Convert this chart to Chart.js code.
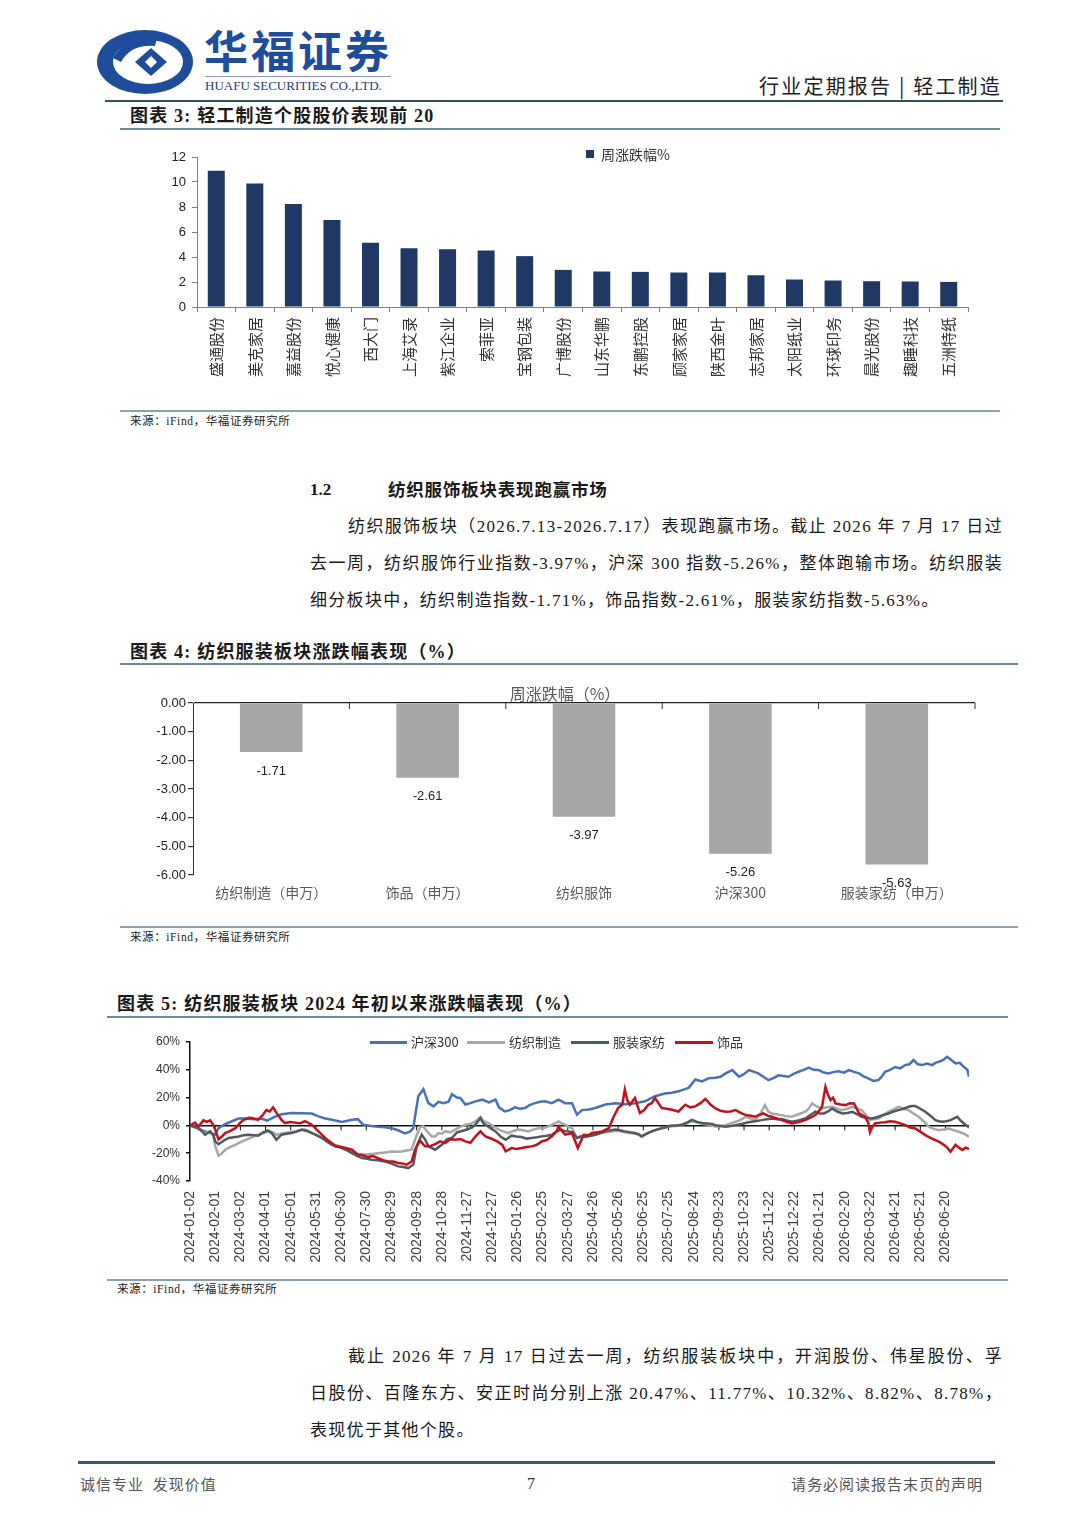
<!DOCTYPE html>
<html><head><meta charset="utf-8">
<script src="https://cdn.jsdelivr.net/npm/chart.js@4.4.1/dist/chart.umd.min.js"></script>
<style>
html,body{margin:0;padding:0;background:#fff;}
body{width:1080px;height:1527px;position:relative;overflow:hidden;font-family:"Liberation Serif","Noto Sans CJK SC",serif;color:#1a1a1a;}
.a{position:absolute;white-space:nowrap;}
.hl{position:absolute;}
canvas{position:absolute;}
.t{font-weight:bold;font-size:18px;letter-spacing:1.2px;line-height:20px;}
.src{font-size:11.5px;line-height:14px;color:#222;letter-spacing:0.6px;}
.p{font-size:17px;line-height:20px;letter-spacing:1.3px;}
.j{text-align:justify;text-align-last:justify;}
.lg{font-family:"Noto Sans CJK SC",sans-serif;font-size:13px;line-height:16px;color:#333;}
.sw{position:absolute;height:3px;}
</style></head><body>

<!-- header -->
<svg class="a" style="left:95px;top:28px" width="102" height="68" viewBox="0 0 102 68">
  <ellipse cx="50" cy="34" rx="48" ry="32" fill="#1f4d9b"/>
  <ellipse cx="53" cy="34" rx="35" ry="22" fill="#fff"/>
  <path d="M18 30 Q30 8 62 10 L60 18 Q36 16 26 34 Z" fill="#1f4d9b"/>
  <path d="M40 34 L56 20 L72 34 L56 48 Z" fill="#1f4d9b"/>
  <path d="M50 34 L56 28 L62 34 L56 40 Z" fill="#fff"/>
</svg>
<div class="a" style="left:204px;top:25px;font-family:'Noto Sans CJK SC',sans-serif;font-weight:bold;font-size:44px;line-height:48px;letter-spacing:3px;color:#1f4d9b;">华福证券</div>
<div class="hl" style="left:205px;top:76px;width:186px;height:1px;background:#8a9cc0;"></div>
<div class="a" style="left:205px;top:78px;font-size:13px;line-height:15px;color:#1f3c7a;">HUAFU SECURITIES CO.,LTD.</div>
<div class="a" style="right:78px;top:75px;font-family:'Noto Sans CJK SC',sans-serif;font-size:20px;line-height:22px;letter-spacing:2.2px;color:#222;">行业定期报告 | 轻工制造</div>
<div class="hl" style="left:105px;top:100px;width:898px;height:2px;background:#34505c;"></div>

<!-- chart 3 block -->
<div class="a t" style="left:130px;top:106px;">图表 3: 轻工制造个股股价表现前 20</div>
<div class="hl" style="left:120px;top:128px;width:880px;height:1.5px;background:#6d8a96;"></div>
<canvas id="c1" width="860" height="265" style="left:130px;top:140px;"></canvas>
<div class="hl" style="left:586px;top:150px;width:8px;height:8px;background:#1f3864;"></div>
<div class="a" style="left:601px;top:145px;font-family:'Noto Sans CJK SC',sans-serif;font-size:14px;line-height:18px;color:#333;">周涨跌幅%</div>
<div class="hl" style="left:120px;top:410px;width:880px;height:1.5px;background:#8aa0aa;"></div>
<div class="a src" style="left:130px;top:414px;">来源：iFind，华福证券研究所</div>

<!-- section 1.2 -->
<div class="a" style="left:310px;top:480px;font-weight:bold;font-size:17px;line-height:20px;">1.2</div>
<div class="a" style="left:388px;top:480px;font-weight:bold;font-size:17.5px;line-height:20px;letter-spacing:0.8px;">纺织服饰板块表现跑赢市场</div>
<div class="a p j" style="left:348px;top:517px;width:655px;">纺织服饰板块（2026.7.13-2026.7.17）表现跑赢市场。截止 2026 年 7 月 17 日过</div>
<div class="a p j" style="left:310px;top:554px;width:693px;">去一周，纺织服饰行业指数-3.97%，沪深 300 指数-5.26%，整体跑输市场。纺织服装</div>
<div class="a p" style="left:310px;top:591px;">细分板块中，纺织制造指数-1.71%，饰品指数-2.61%，服装家纺指数-5.63%。</div>

<!-- chart 4 block -->
<div class="a t" style="left:130px;top:642px;">图表 4: 纺织服装板块涨跌幅表现（%）</div>
<div class="hl" style="left:120px;top:663px;width:898px;height:1.5px;background:#6d8a96;"></div>
<canvas id="c2" width="880" height="235" style="left:120px;top:680px;"></canvas>
<div class="a" style="left:565px;top:683px;transform:translateX(-50%);font-family:'Noto Sans CJK SC',sans-serif;font-size:16px;line-height:20px;color:#595959;">周涨跌幅（%）</div>
<div class="hl" style="left:120px;top:926px;width:898px;height:1.5px;background:#8aa0aa;"></div>
<div class="a src" style="left:130px;top:930px;">来源：iFind，华福证券研究所</div>

<!-- chart 5 block -->
<div class="a t" style="left:117px;top:994px;">图表 5: 纺织服装板块 2024 年初以来涨跌幅表现（%）</div>
<div class="hl" style="left:107px;top:1016px;width:901px;height:1.5px;background:#6d8a96;"></div>
<canvas id="c3" width="900" height="250" style="left:107px;top:1025px;"></canvas>
<div class="sw" style="left:370px;top:1041px;width:37px;background:#4a70b8;"></div>
<div class="a lg" style="left:411px;top:1034px;">沪深300</div>
<div class="sw" style="left:467px;top:1041px;width:38px;background:#a8a8a8;"></div>
<div class="a lg" style="left:509px;top:1034px;">纺织制造</div>
<div class="sw" style="left:571px;top:1041px;width:38px;background:#4f5a61;"></div>
<div class="a lg" style="left:613px;top:1034px;">服装家纺</div>
<div class="sw" style="left:675px;top:1041px;width:38px;background:#c1121c;"></div>
<div class="a lg" style="left:717px;top:1034px;">饰品</div>
<div class="hl" style="left:107px;top:1279px;width:901px;height:1.5px;background:#8aa0aa;"></div>
<div class="a src" style="left:117px;top:1282px;">来源：iFind，华福证券研究所</div>

<!-- paragraph 2 -->
<div class="a p j" style="left:348px;top:1347px;width:655px;">截止 2026 年 7 月 17 日过去一周，纺织服装板块中，开润股份、伟星股份、孚</div>
<div class="a p j" style="left:310px;top:1384px;width:693px;">日股份、百隆东方、安正时尚分别上涨 20.47%、11.77%、10.32%、8.82%、8.78%，</div>
<div class="a p" style="left:310px;top:1421px;">表现优于其他个股。</div>

<!-- footer -->
<div class="hl" style="left:78px;top:1461px;width:917px;height:2.5px;background:#3c5a64;"></div>
<div class="a" style="left:80px;top:1475px;font-family:'Noto Sans CJK SC',sans-serif;font-size:15px;line-height:18px;color:#555;letter-spacing:1px;">诚信专业&nbsp;&nbsp;发现价值</div>
<div class="a" style="left:527px;top:1475px;font-size:16px;line-height:18px;color:#333;">7</div>
<div class="a" style="right:97px;top:1475px;font-family:'Noto Sans CJK SC',sans-serif;font-size:15px;line-height:18px;color:#555;letter-spacing:1px;">请务必阅读报告末页的声明</div>

<script>
// ---------- data: chart 3 (top 20 light-industry stocks) ----------
const stockNames = ['盛通股份','美克家居','嘉益股份','悦心健康','西大门','上海艾录','紫江企业','索菲亚','宝钢包装','广博股份','山东华鹏','东鹏控股','顾家家居','陕西金叶','志邦家居','太阳纸业','环球印务','晨光股份','趣睡科技','五洲特纸'];
const stockWeeklyChange = [10.9,9.88,8.25,6.96,5.14,4.71,4.63,4.53,4.07,2.97,2.84,2.81,2.76,2.76,2.54,2.2,2.12,2.06,2.04,2.01];

// ---------- data: chart 4 (textile sector weekly change) ----------
const sectorNames = ['纺织制造（申万）','饰品（申万）','纺织服饰','沪深300','服装家纺（申万）'];
const sectorWeeklyChange = [-1.71,-2.61,-3.97,-5.26,-5.63];

// ---------- data: chart 5 (cumulative change since 2024-01-02; [day offset, %]) ----------
const xTickLabels = ['2024-01-02','2024-02-01','2024-03-02','2024-04-01','2024-05-01','2024-05-31','2024-06-30','2024-07-30','2024-08-29','2024-09-28','2024-10-28','2024-11-27','2024-12-27','2025-01-26','2025-02-25','2025-03-27','2025-04-26','2025-05-26','2025-06-25','2025-07-25','2025-08-24','2025-09-23','2025-10-23','2025-11-22','2025-12-22','2026-01-21','2026-02-20','2026-03-22','2026-04-21','2026-05-21','2026-06-20'];
const lastDay = 928;

const hs300 = [[0,0],[8,-2],[16,-4],[24,-5.5],[30,-6.5],[34,-2],[42,1],[50,3],[58,5],[66,5],[75,4.5],[85,5],[92,3.5],[100,6],[109,8],[121,9],[133,8.8],[145,8.5],[153,6.5],[161,5],[169,4],[181,2.5],[193,4],[200,4.5],[206,0.5],[216,-0.5],[224,-1],[232,-1.3],[240,-2],[248,-3.5],[256,-5.8],[262,-4.5],[266,-2],[268,6],[272,21],[278,26],[284,16],[290,13.7],[296,17],[302,16],[308,17],[312,22.5],[318,20],[322,19.7],[328,15],[334,16],[340,17.3],[348,18.5],[356,16.5],[364,18.5],[368,13],[375,10],[381,11],[387,13],[393,12],[399,12.5],[405,14.8],[411,16],[417,17],[423,17.3],[431,16],[439,18.5],[447,16],[455,16],[461,7.7],[467,11],[475,11.5],[483,12.5],[495,15],[507,16],[518,15.3],[530,16],[542,17.3],[554,21],[566,23],[574,23.5],[582,24.5],[594,27],[602,33],[610,31.6],[618,34],[626,34.3],[632,35],[638,37.4],[646,39.8],[654,35],[660,37],[666,39.8],[677,37.4],[683,35],[689,32.6],[695,34],[701,36],[707,35.5],[713,35],[719,37],[725,38.6],[731,40],[737,41.5],[743,40],[749,39.8],[755,38],[761,37.4],[767,38.5],[773,39],[779,38],[785,39.8],[791,38.5],[797,37.4],[803,35],[808,33.8],[814,32],[820,32.6],[824,35],[828,38.6],[834,40],[840,42],[846,41],[852,43.4],[857,44],[862,47],[867,44],[872,43.4],[878,44.5],[884,43.4],[888,45],[892,45.8],[897,47],[902,49.4],[907,47],[912,44.6],[917,45],[922,42],[926,40],[928,35]];

const textileMfg = [[0,0],[6,-1],[10,-2.6],[14,-4],[18,-5.5],[24,-4.3],[28,-8],[30,-15],[34,-21.8],[38,-20],[42,-17.5],[48,-15.5],[54,-14],[62,-11.5],[68,-10],[74,-8.4],[80,-7],[85,-6],[90,-5],[95,-4.3],[99,-5],[103,-6.7],[108,-6],[113,-5.5],[119,-5],[125,-4.3],[131,-3.5],[137,-3],[143,-4.5],[149,-6.7],[155,-8.5],[161,-10.3],[167,-12],[173,-14],[179,-15],[185,-16.3],[191,-18],[197,-20],[203,-21],[209,-21],[216,-20.5],[224,-20],[232,-19.5],[240,-18.7],[246,-19],[252,-18.7],[258,-18],[264,-17.5],[268,-10.3],[274,-1.2],[278,-0.7],[282,-4],[288,-8],[292,-8],[296,-5.5],[300,-6],[304,-4.3],[310,-5],[316,-3],[322,-1],[328,0.5],[334,1],[340,2.9],[346,6],[350,3],[356,1.7],[362,-1],[368,-3],[374,-4.5],[379,-5.5],[385,-4],[391,-3],[397,-3.5],[403,-4.3],[409,-3],[415,-2],[421,-2],[427,-0.7],[433,1],[439,2.9],[443,1.5],[447,0.5],[451,-1],[455,-2],[461,-9],[466,-7.5],[471,-8],[477,-7],[483,-6.7],[489,-5.5],[495,-5],[501,-4.5],[507,-3.8],[512,-4],[518,-5],[524,-5.5],[530,-6],[535,-7],[538,-8.4],[544,-6],[550,-4.3],[556,-3],[562,-2],[568,-1.5],[574,-0.7],[580,-0.5],[586,0.5],[592,1.5],[598,2.9],[604,2],[610,1.2],[616,0.7],[622,0],[626,-1],[632,-0.5],[638,0.2],[644,1.5],[650,2.6],[656,4],[662,6.2],[668,5],[673,3.8],[679,8],[685,14.6],[689,10],[693,8.6],[699,8],[705,7.4],[711,6.5],[717,6.2],[725,8],[733,9.8],[737,12],[741,15.8],[747,13.5],[753,12.2],[759,13],[765,13.4],[771,12],[777,11],[783,12],[789,13.4],[795,12],[800,11],[806,7],[810,3.8],[815,4.5],[820,5],[826,7.5],[832,9.8],[838,11.5],[844,13.4],[850,12],[856,11],[862,8.5],[868,6.2],[874,3],[880,-1],[886,-2.5],[892,-3.4],[898,-3],[904,-2.2],[910,-3.5],[916,-4.6],[922,-6],[928,-8.2]];

const apparelHome = [[0,0],[6,-1],[10,-2],[14,-4],[18,-6.7],[22,-5],[24,-4.3],[28,-7],[30,-11.5],[34,-13.5],[40,-11],[46,-9],[52,-8.5],[58,-8],[64,-7],[70,-6.7],[76,-7],[81,-7.4],[87,-5],[93,-3.6],[98,-6],[103,-10.3],[109,-6.7],[115,-6],[121,-5.5],[127,-4.5],[133,-3],[139,-4],[145,-5.5],[151,-7],[157,-9],[163,-11.5],[169,-14],[175,-15],[181,-16.3],[187,-18],[193,-20],[199,-22],[205,-23.5],[211,-24],[216,-24.7],[224,-25],[232,-25.9],[240,-27.5],[248,-29.5],[254,-30],[260,-30.7],[264,-29],[266,-28.3],[270,-15],[276,-6.7],[280,-10],[284,-15],[292,-17.5],[300,-14],[306,-10],[312,-9],[318,-5],[324,-4],[330,-3],[336,-1.5],[340,0.5],[346,5.3],[349,2],[352,0.5],[358,-2],[364,-4.3],[370,-8],[376,-10.3],[383,-7.4],[389,-8],[395,-8.4],[401,-9.5],[407,-9],[413,-8.5],[419,-7.9],[425,-7.5],[431,-6.7],[437,-4.5],[441,-3],[446,-4],[451,-4.3],[456,-5],[461,-9],[466,-8],[471,-8.4],[477,-7.5],[483,-6.7],[489,-5.5],[495,-4.3],[501,-3.5],[507,-3],[512,-3.5],[518,-4.3],[524,-5],[530,-5.5],[535,-6.5],[538,-7.9],[544,-6],[550,-4.3],[556,-3],[562,-2],[568,-1],[574,0],[580,0],[586,0.5],[592,2],[598,4],[604,2.5],[610,1.7],[616,1.4],[622,1],[626,0.2],[632,-0.5],[638,-1],[644,-0.5],[650,0.2],[657,1],[665,2.2],[673,3],[681,3.8],[687,4.5],[693,5],[699,4.5],[705,4.6],[711,3.5],[717,2.6],[725,3.5],[733,5],[739,7.5],[745,9.8],[750,8.5],[755,8.6],[760,10],[765,12.2],[771,10],[777,8.6],[783,9],[789,9.8],[795,8],[800,6.2],[806,5.5],[812,5],[816,5.5],[820,6.2],[826,7.5],[832,8.6],[838,10],[844,11],[850,12],[856,13.4],[860,14],[864,13.9],[870,12],[876,9.8],[882,7],[888,3.8],[892,3],[896,2.6],[901,3],[906,3.8],[910,5],[914,6.2],[918,3.5],[922,1.4],[925,0],[928,-1.5]];

const jewelry = [[0,0],[6,2],[10,-1],[16,3.6],[20,2.5],[24,3.6],[28,0],[30,-3],[34,-10],[38,-8],[42,-5.5],[48,-4],[54,-2],[60,2],[64,4],[70,5.5],[74,5.3],[81,4],[86,7],[91,11],[95,10],[99,13],[103,9],[109,4],[113,1.7],[119,2.5],[125,2],[131,1.5],[137,3],[145,0.5],[153,-4.3],[161,-9],[167,-12],[173,-15],[179,-15.5],[185,-16.3],[193,-17.5],[200,-21],[206,-21.5],[212,-22.8],[218,-22],[224,-23.5],[230,-25],[236,-25.9],[242,-26],[248,-27],[254,-27.5],[258,-28.3],[264,-26],[268,-17.5],[274,-11],[280,-15],[286,-15],[292,-13.5],[298,-11.5],[304,-12.7],[310,-10],[316,-10.3],[322,-9.8],[328,-11.5],[334,-12.5],[340,-8],[346,-4.3],[352,-8],[360,-9.8],[366,-11.5],[372,-14],[376,-18.7],[383,-16.3],[389,-17],[395,-16.3],[401,-15.5],[407,-15.1],[413,-14],[419,-11.5],[425,-10.5],[431,-7.9],[437,-4],[439,-0.7],[443,-4],[447,-6.7],[455,-5.5],[462,-16.3],[469,-6.7],[475,-7],[479,-5.5],[485,-5],[491,-4.3],[499,-1.9],[504,5.3],[510,12.5],[515,15],[518,25.7],[521,18],[524,14.9],[530,19.7],[536,8.9],[541,11],[546,14.9],[550,16],[554,19.7],[558,16],[562,12.5],[568,12],[574,11.3],[582,10],[590,14.9],[596,13],[602,13.7],[608,16],[614,19],[620,15],[626,12.2],[632,10.5],[638,9.8],[644,10],[650,11],[656,9],[662,7.4],[668,7],[673,6.2],[678,7.5],[683,8.6],[688,7],[693,6.2],[699,5],[705,3.8],[711,2.5],[717,1.4],[725,2.5],[733,3.8],[739,5.5],[745,7.4],[750,11],[753,13.4],[757,27.8],[760,22],[763,18.2],[766,20],[769,15.8],[775,15],[781,14.6],[786,16],[791,15.8],[797,8.6],[804,6.2],[808,2],[810,-5],[813,-1],[816,1.4],[822,2],[828,2.2],[834,3],[840,2.6],[846,1.5],[852,0.2],[858,-1.5],[864,-2.2],[870,-4.5],[876,-7],[882,-9],[888,-10.6],[893,-12],[898,-14],[902,-16],[906,-19],[912,-14],[916,-16],[920,-17.7],[924,-16],[928,-17]];

// ---------- helpers / plugins ----------
Chart.defaults.font.family = "'Liberation Sans','Noto Sans CJK SC',sans-serif";
Chart.defaults.animation = false;

const zeroLineTicks = {
  id: 'zeroLineTicks',
  beforeDatasetsDraw(chart, args, opts) {
    if (!opts || !opts.enabled) return;
    const ctx = chart.ctx, xs = chart.scales.x, ys = chart.scales.y;
    const y0 = ys.getPixelForValue(0);
    const pos = [];
    if (xs.type === 'category') {
      const n = xs.getLabels().length, w = (xs.right - xs.left) / n;
      for (let i = 1; i <= n; i++) pos.push(xs.left + i * w);
    } else {
      xs.ticks.forEach(t => { if (t.value > xs.min) pos.push(xs.getPixelForValue(t.value)); });
    }
    ctx.save();
    ctx.strokeStyle = opts.color; ctx.lineWidth = 1;
    pos.forEach(px => { ctx.beginPath(); ctx.moveTo(px, y0); ctx.lineTo(px, y0 + opts.length); ctx.stroke(); });
    ctx.restore();
  }
};

const barValueLabels = {
  id: 'barValueLabels',
  afterDatasetsDraw(chart, args, opts) {
    if (!opts || !opts.enabled) return;
    const ctx = chart.ctx, meta = chart.getDatasetMeta(0), vals = chart.data.datasets[0].data;
    ctx.save();
    ctx.font = opts.font; ctx.fillStyle = opts.color;
    ctx.textAlign = 'center'; ctx.textBaseline = 'middle';
    meta.data.forEach((el, i) => ctx.fillText(vals[i].toFixed(2), el.x, el.y + opts.offset));
    ctx.restore();
  }
};

// ---------- chart 1: bar ----------
new Chart(document.getElementById('c1'), {
  type: 'bar',
  data: { labels: stockNames, datasets: [{ label: '周涨跌幅%', data: stockWeeklyChange, backgroundColor: '#1f3864', barPercentage: 0.9, categoryPercentage: 0.49 }] },
  options: {
    responsive: false,
    layout: { padding: { left: 0, right: 22, top: 17, bottom: 0 } },
    plugins: { legend: { display: false }, tooltip: { enabled: false } },
    scales: {
      x: {
        grid: { display: true, drawOnChartArea: false, drawTicks: true, tickLength: 5, color: '#7f7f7f', offset: true },
        border: { display: true, color: '#7f7f7f', width: 1 },
        ticks: { minRotation: 90, maxRotation: 90, autoSkip: false, padding: 5, color: '#333', font: { family: "'Noto Sans CJK SC',sans-serif", size: 15 } },
        afterFit(s) { s.height = 98; }
      },
      y: {
        min: 0, max: 12,
        ticks: { stepSize: 2, padding: 6, color: '#222', font: { size: 13 } },
        grid: { drawOnChartArea: false, drawTicks: true, tickLength: 5, color: '#7f7f7f' },
        border: { display: true, color: '#7f7f7f', width: 1 },
        afterFit(s) { s.width = 67; }
      }
    }
  }
});

// ---------- chart 2: negative bar ----------
new Chart(document.getElementById('c2'), {
  type: 'bar',
  data: { labels: sectorNames, datasets: [{ label: '周涨跌幅（%）', data: sectorWeeklyChange, backgroundColor: '#a6a6a6', barPercentage: 0.8, categoryPercentage: 0.5 }] },
  plugins: [zeroLineTicks, barValueLabels],
  options: {
    responsive: false,
    layout: { padding: { left: 0, right: 25, top: 23, bottom: 0 } },
    plugins: {
      legend: { display: false }, tooltip: { enabled: false },
      zeroLineTicks: { enabled: true, color: '#333', length: 6 },
      barValueLabels: { enabled: true, offset: 19, color: '#222', font: "13px 'Liberation Sans Narrow','Liberation Sans',sans-serif" }
    },
    scales: {
      x: {
        grid: { display: false, drawTicks: false },
        border: { display: false },
        ticks: { padding: 9, color: '#595959', font: { family: "'Noto Sans CJK SC',sans-serif", size: 14 } },
        afterFit(s) { s.height = 40; }
      },
      y: {
        min: -6, max: 0,
        ticks: { stepSize: 1, padding: 2, color: '#222', font: { size: 13 }, callback: v => v.toFixed(2) },
        grid: { drawOnChartArea: true, drawTicks: true, tickLength: 5, tickColor: '#333', lineWidth: 1.2,
                color: c => (c.tick && c.tick.value === 0) ? '#222' : 'rgba(0,0,0,0)' },
        border: { display: true, color: '#333', width: 1 },
        afterFit(s) { s.width = 73; }
      }
    }
  }
});

// ---------- chart 3: lines ----------
const toXY = arr => arr.map(p => ({ x: p[0], y: p[1] }));
const lineDs = (label, arr, color, order) => ({ label, data: toXY(arr), borderColor: color, backgroundColor: color, borderWidth: 2.5, pointRadius: 0, tension: 0, order });
new Chart(document.getElementById('c3'), {
  type: 'line',
  data: { datasets: [
    lineDs('沪深300', hs300, '#4a70b8', 3),
    lineDs('纺织制造', textileMfg, '#a8a8a8', 2),
    lineDs('服装家纺', apparelHome, '#4f5a61', 1),
    lineDs('饰品', jewelry, '#c1121c', 0)
  ] },
  plugins: [zeroLineTicks],
  options: {
    responsive: false,
    layout: { padding: { left: 0, right: 38, top: 17, bottom: 0 } },
    plugins: { legend: { display: false }, tooltip: { enabled: false }, zeroLineTicks: { enabled: true, color: '#111', length: 5 } },
    scales: {
      x: {
        type: 'linear', min: 0, max: lastDay,
        grid: { display: false, drawTicks: false },
        border: { display: false },
        ticks: { stepSize: 30, includeBounds: false, autoSkip: false, minRotation: 90, maxRotation: 90, padding: 10, color: '#404040', font: { size: 14 },
                 callback: v => xTickLabels[Math.round(v / 30)] ?? '' },
        afterFit(s) { s.height = 94; }
      },
      y: {
        min: -40, max: 60,
        ticks: { stepSize: 20, padding: 6, color: '#333', font: { size: 12 }, callback: v => v + '%' },
        grid: { drawOnChartArea: true, drawTicks: true, tickLength: 4, tickColor: '#111', lineWidth: 1.5,
                color: c => (c.tick && c.tick.value === 0) ? '#111' : 'rgba(0,0,0,0)' },
        border: { display: true, color: '#111', width: 1.5 },
        afterFit(s) { s.width = 83; }
      }
    }
  }
});
</script>
</body></html>
